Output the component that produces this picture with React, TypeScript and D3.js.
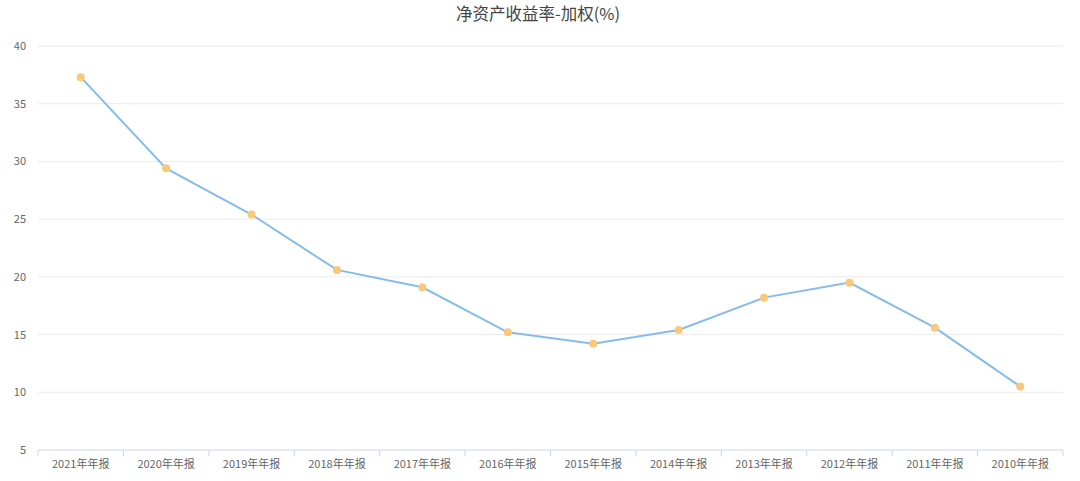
import React from "react";
import * as d3 from "d3";

const categories = [
  "2021年年报", "2020年年报", "2019年年报", "2018年年报", "2017年年报", "2016年年报",
  "2015年年报", "2014年年报", "2013年年报", "2012年年报", "2011年年报", "2010年年报",
];
const values = [37.3, 29.4, 25.4, 20.6, 19.1, 15.2, 14.2, 15.4, 18.2, 19.5, 15.6, 10.5];
const yTicks = [5, 10, 15, 20, 25, 30, 35, 40];
const title = "净资产收益率-加权(%)";

const W = 1080, H = 481;
const left = 38, right = 1063, top = 46, bottom = 450;
const font = "'Noto Sans CJK SC', 'Noto Sans', sans-serif";

export default function App() {
  const x = d3.scaleBand<string>().domain(categories).range([left, right]);
  const y = d3.scaleLinear().domain([5, 40]).range([bottom, top]);
  const cx = (c: string) => (x(c) as number) + x.bandwidth() / 2;
  const line = d3.line<number>().x((_, i) => cx(categories[i])).y((v) => y(v));
  const boundaries = [...categories.map((c) => x(c) as number), right];

  return (
    <svg width={W} height={H} style={{ position: "absolute", left: 0, top: 0, background: "#fff" }}>
      <text x={538} y={20} textAnchor="middle" fontFamily={font} fontSize={16.5} fill="#444">{title}</text>
      {yTicks.map((t) => (
        <g key={t}>
          {t !== 5 && <line x1={left} x2={right} y1={y(t)} y2={y(t)} stroke="#ebebeb" strokeWidth={1} />}
          <text x={26} y={y(t) + 4} textAnchor="end" fontFamily={font} fontSize={11} fill="#666">{t}</text>
        </g>
      ))}
      <line x1={left} x2={right} y1={bottom} y2={bottom} stroke="#ccd6eb" strokeWidth={1} />
      {boundaries.map((b, i) => (
        <line key={i} x1={b} x2={b} y1={bottom} y2={bottom + 6} stroke="#ccd6eb" strokeWidth={1} />
      ))}
      {categories.map((c) => (
        <text key={c} x={cx(c)} y={468} textAnchor="middle" fontFamily={font} fontSize={11} fill="#666">{c}</text>
      ))}
      <path d={line(values) || ""} fill="none" stroke="#86bce9" strokeWidth={2} />
      {values.map((v, i) => (
        <circle key={i} cx={cx(categories[i])} cy={y(v)} r={4} fill="#f8c978" />
      ))}
    </svg>
  );
}
